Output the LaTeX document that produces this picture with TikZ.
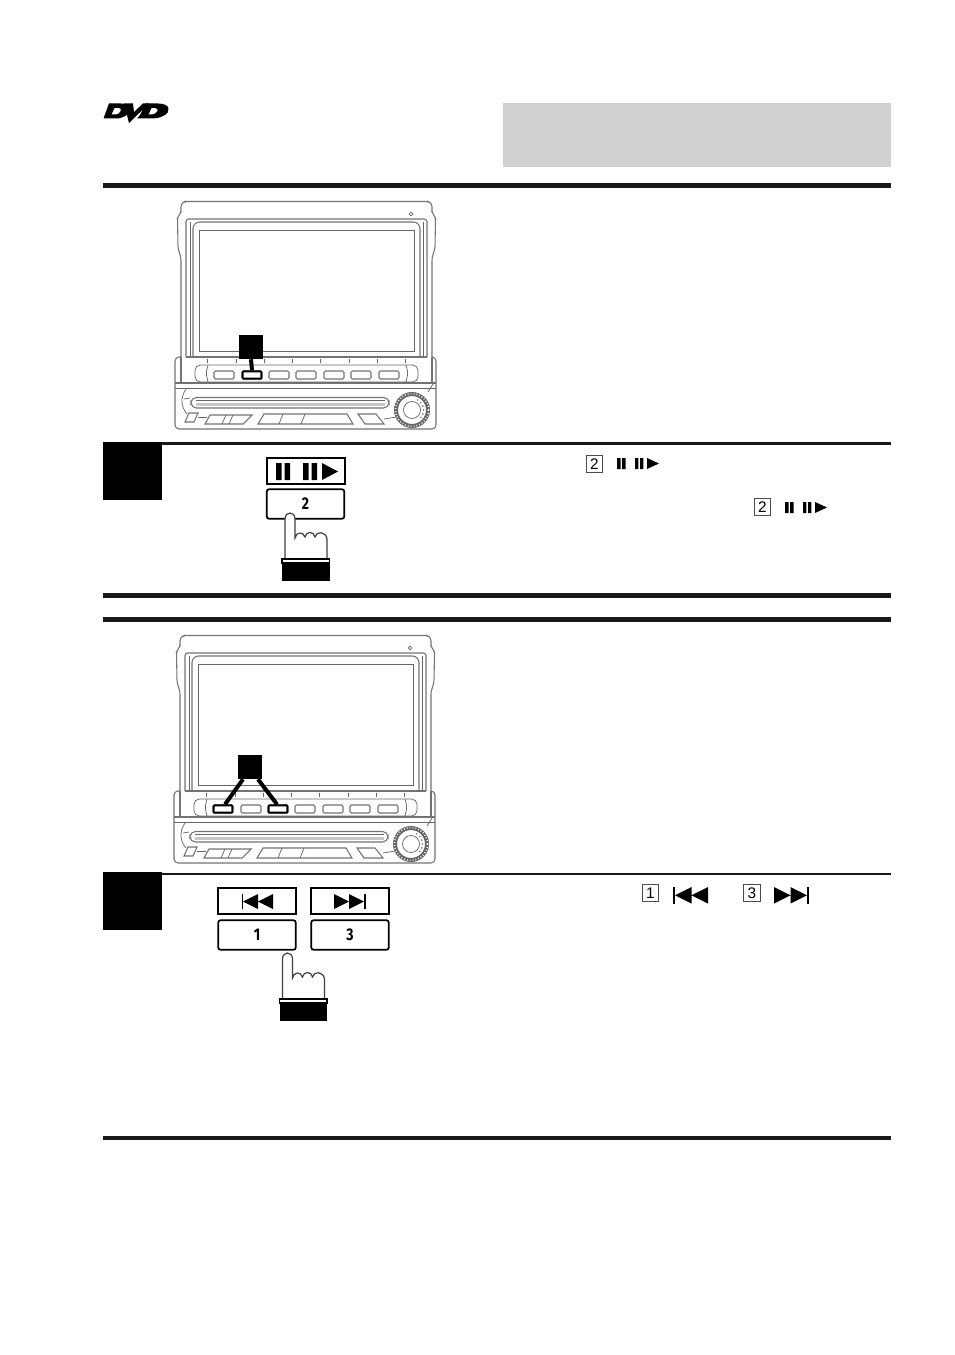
\documentclass[tikz,border=0pt]{standalone}
\usepackage{fontspec}
\setmainfont{Liberation Sans}
\newfontfamily\keyfont[FakeStretch=0.82]{Fira Sans}
\tikzset{
  devline/.style={line width=0.8pt,draw=black!55},
  thinline/.style={line width=0.55pt,draw=black!60},
  heavyrule/.style={fill=black!90,draw=none},
  stepmark/.style={fill=black,draw=none,minimum width=44.25pt,minimum height=43.5pt,inner sep=0pt},
  callout/.style={fill=black,draw=none,minimum size=18pt,inner sep=0pt},
  lit/.style={draw=black,line width=1.5pt,fill=white,rounded corners=0.5pt,minimum width=14pt,minimum height=5.5pt,inner sep=0pt},
  lead/.style={draw=black,line width=3pt},
  capbox/.style={draw=black,line width=1.3pt,fill=white,minimum width=59pt,minimum height=19pt,inner sep=0pt},
  keybox/.style={draw=black,line width=1.3pt,fill=white,rounded corners=1.5pt,minimum width=58pt,minimum height=22pt,inner sep=0pt,font=\keyfont\bfseries\fontsize{12.7}{13}\selectfont},
  smallbox/.style={draw=black!70,line width=0.85pt,minimum size=12.2pt,inner sep=0pt,font=\fontsize{11.5}{12}\selectfont},
  headunit/.pic={
    % upper shell
    \draw[devline,rounded corners=2] (181,357)--(181,258)--(178,248)--(177.5,217)--(181,213)--(181,204)--(185,201.5)--(428,201.5)--(432,204)--(432,213)--(435.5,217)--(435,248)--(432,258)--(432,357);
    \draw[devline,rounded corners=2] (186,357)--(186,219)--(427,219)--(427,357);
    \draw[thinline] (190,222)--(190,357) (423,222)--(423,357);
    \draw[devline,rounded corners=5] (193,357)--(193,222)--(420,222)--(420,357);
    \draw[devline] (186,357)--(427,357);
    \draw[thinline] (199,230) rectangle (414,351);
    \draw[thinline] (411,214) circle [radius=1.8];
    % lower body
    \draw[devline,rounded corners=3] (181,357)--(175,357)--(175,429)--(436,429)--(436,357)--(432,357);
    \draw[devline] (181,357)--(181,383) (432,357)--(432,383);
    \draw[devline] (175,383)--(436,383);
    \draw[thinline] (175,388.5)--(436,388.5);
    \foreach \xa in {207,236,264,292,320,349,377,405}
      \draw[thinline] (\xa,359)--(\xa,363);
    \draw[thinline,rounded corners=4] (195,365) rectangle (418,382);
    \draw[thinline,rounded corners=2] (208,365)--(206,373)--(208,382) (406,365)--(408,373)--(406,382);
    \foreach \xa in {214,242,269,296,324,351,379}
      \draw[devline,rounded corners=1] (\xa,371) rectangle +(20,8);
    % slot and flaps
    \draw[devline,rounded corners=4] (191,397.5) rectangle (389,408);
    \fill[black!22] (196,403) rectangle (385,406);
    \draw[thinline] (196,400)--(385,400);
    \draw[thinline] (186,389)..controls (180,398) and (181,407)..(187,414);
    \draw[thinline] (184,399)--(190,398);
    \draw[devline] (189,413)--(198,413)--(194,422)--(185,422)--cycle;
    \draw[thinline] (198,417)--(207,417);
    \draw[devline] (210,415)--(252,415)--(243,424)--(205,424)--cycle;
    \draw[thinline] (226,415)--(222,424) (233,415)--(229,424);
    \draw[devline] (264,414)--(347,414)--(353,424)--(258,424)--cycle;
    \draw[thinline] (283,414)--(279,424) (305,414)--(301,424);
    \draw[devline] (358,414)--(376,414)--(384,424)--(365,424)--cycle;
    \draw[thinline] (384,419)--(396,417);
    % knob
    \draw[black!60,line width=3pt,fill=white] (412,410) circle [radius=16];
    \draw[white,line width=1.2pt,dash pattern=on 0.6pt off 1.6pt] (412,410) circle [radius=16.5];
    \draw[thinline] (412,410) circle [radius=8.5];
    \draw[thinline] (428,392)--(433,384);
    \foreach \ang in {-60,-40,-20,0,20,40}
      \fill[black!55] (412,410) ++(\ang:11.5) circle [radius=0.9];
  },
  hand/.pic={
    \draw[black!75,line width=0.9pt,fill=white] (-5,46)--(-5,6)..controls (-5,-2) and (5,-2)..(5,6)--(5,25)..controls (6,19) and (13,18)..(15,24)..controls (16,18) and (24,18)..(25,24)..controls (26,18) and (36,18)..(37,26)--(37,46)--cycle;
    \draw[black,line width=0.8pt,fill=white] (-8,46) rectangle (39.5,50);
    \fill[black] (-8,50) rectangle (39.5,68);
  },
  pauseplay/.pic={
    \fill (0,0) rectangle (5.5,17) (8.5,0) rectangle (14,17) (27,0) rectangle (32.5,17) (35.5,0) rectangle (41,17);
    \fill (46,0)--(62,8.5)--(46,17)--cycle;
  },
  pauseplaysmall/.pic={
    \fill (0,0) rectangle (3.6,11) (5,0) rectangle (8.6,11) (18,0) rectangle (21.4,11) (23,0) rectangle (26.4,11);
    \fill (30,0)--(42,5.5)--(30,11)--cycle;
  },
  skipback/.pic={
    \fill (-1.5,0) rectangle (0,15);
    \fill (0,7.5)--(15,0)--(15,15)--cycle (15,7.5)--(30,0)--(30,15)--cycle;
  },
  skipnext/.pic={
    \fill (30,0) rectangle (31.5,15);
    \fill (0,0)--(15,7.5)--(0,15)--cycle (15,0)--(30,7.5)--(15,15)--cycle;
  },
}
\begin{document}
\begin{tikzpicture}[x=0.75pt,y=-0.75pt]
    \useasboundingbox (0,0) rectangle (954,1355);
    % logo
    \fill[black,even odd rule] (109,103.5)--(121,103.5)..controls (131,103.5) and (132,110)..(128,114)..controls (125,117) and (120,118.5)..(116,118.5)--(103.5,118.5)--cycle
      (114.5,108)--(111.5,114.5)--(116,114.5)..controls (120,114.5) and (123,108)..(119,108)--cycle;
    \fill[black] (124,103.5)--(133,103.5)--(134,112)--(143,103.5)--(149,103.5)--(129,123)--cycle;
    \fill[black,even odd rule] (146,103.5)--(158,103.5)..controls (171,103.5) and (171,112)..(164,115.5)..controls (160,118) and (155,118.5)..(150,118.5)--(137,118.5)--(140,115)--cycle
      (151.5,108)--(148.5,114.5)--(152,114.5)..controls (157,114.5) and (160,108)..(155,108)--cycle;
    \fill[black!18] (503,103) rectangle (891,167);
    % rules
    \fill[heavyrule] (103,183) rectangle (891,188);
    \fill[heavyrule] (103,442) rectangle (891,445);
    \fill[heavyrule] (103,593) rectangle (891,598);
    \fill[heavyrule] (103,617) rectangle (891,622);
    \fill[heavyrule] (103,873) rectangle (891,875);
    \fill[heavyrule] (103,1136) rectangle (891,1140);

    \node[stepmark] (stepa) at (132.5,471) {};
    \node[stepmark] (stepb) at (132.5,901) {};

    % first unit
    \pic at (0,0) {headunit};
    \node[callout] (calla) at (251,347) {};
    \node[lit] (btnb) at (252,375) {};
    \draw[lead] (calla.south)--(btnb.north);

    \node[capbox] (capa) at (306,471) {};
    \pic at (276,463) {pauseplay};
    \node[keybox] (keya) at (305.5,504) {2};
    \pic at (290,513) {hand};

    \node[smallbox] (noa) at (594.5,464) {2};
    \pic at (617,458) {pauseplaysmall};
    \node[smallbox] (nob) at (762.5,507) {2};
    \pic at (785,502) {pauseplaysmall};

    % second unit
    \pic at (-1,434) {headunit};
    \node[callout] (callb) at (250,767) {};
    \node[lit] (btnc) at (223,809) {};
    \node[lit] (btnd) at (278,809) {};
    \draw[lead] ([xshift=-5.25pt]callb.south)--([xshift=1.5pt]btnc.north);
    \draw[lead] ([xshift=6pt]callb.south)--([xshift=-0.75pt]btnd.north);

    \node[capbox] (capb) at (257,901) {};
    \node[capbox] (capc) at (350,901) {};
    \pic at (243,894) {skipback};
    \pic at (334,894) {skipnext};
    \node[keybox] (keyb) at (257,935) {1};
    \node[keybox] (keyc) at (350,935) {3};
    \pic at (287.5,953) {hand};

    \node[smallbox] (noc) at (650.5,893) {1};
    \pic[scale=1.1] at (675,887) {skipback};
    \node[smallbox] (nod) at (752,893) {3};
    \pic[scale=1.1] at (774,887) {skipnext};
\end{tikzpicture}
\end{document}
